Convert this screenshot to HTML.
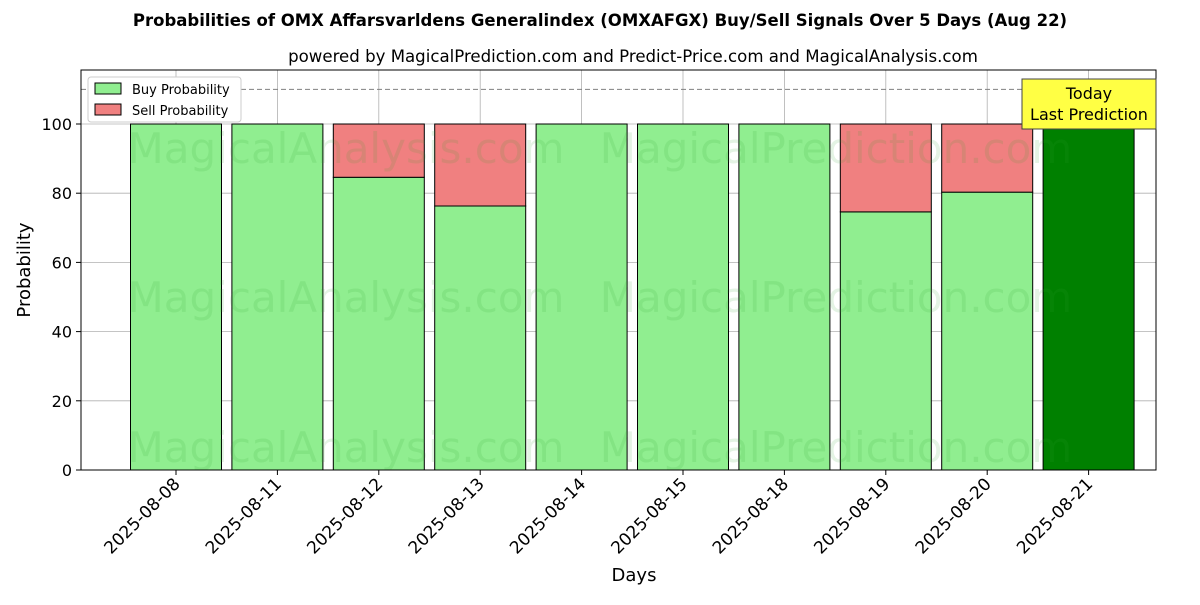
<!DOCTYPE html>
<html><head><meta charset="utf-8"><style>
body{margin:0;background:#fff;}
svg text{font-family:"DejaVu Sans","Liberation Sans",sans-serif;}
</style></head><body>
<svg id="chart" width="1200" height="600" xmlns="http://www.w3.org/2000/svg">
<text x="600" y="26" text-anchor="middle" font-size="16.5" font-weight="bold">Probabilities of OMX Affarsvarldens Generalindex (OMXAFGX) Buy/Sell Signals Over 5 Days (Aug 22)</text>
<text x="633" y="62" text-anchor="middle" font-size="16.6">powered by MagicalPrediction.com and Predict-Price.com and MagicalAnalysis.com</text>
<g id="grid"></g>
<g id="bars"></g>
<g id="wm" fill="#2ca02c" fill-opacity="0.13" font-size="42" text-anchor="middle">
<text x="346" y="163">MagicalAnalysis.com</text>
<text x="836" y="163">MagicalPrediction.com</text>
<text x="346" y="312">MagicalAnalysis.com</text>
<text x="836" y="312">MagicalPrediction.com</text>
<text x="346" y="462">MagicalAnalysis.com</text>
<text x="836" y="462">MagicalPrediction.com</text>
</g>
<line x1="81" x2="1156" y1="89.4" y2="89.4" stroke="#808080" stroke-dasharray="5,3"/>
<rect x="81" y="70" width="1075" height="400" fill="none" stroke="#000"/>
<g id="axes"></g>
<text x="30" y="270" transform="rotate(-90 30 270)" text-anchor="middle" font-size="18">Probability</text>
<text x="634" y="581" text-anchor="middle" font-size="18">Days</text>
<g>
<rect x="88" y="77" width="153" height="45" fill="#fff" stroke="#ccc" rx="3"/>
<rect x="95" y="83" width="26" height="11" fill="#90ee90" stroke="#000"/>
<text x="132" y="94" font-size="13">Buy Probability</text>
<rect x="95" y="104" width="26" height="11" fill="#f08080" stroke="#000"/>
<text x="132" y="115" font-size="13">Sell Probability</text>
</g>
<g>
<rect x="1022" y="79" width="134" height="50" fill="#ffff44" stroke="#444"/>
<text x="1089" y="99" text-anchor="middle" font-size="16">Today</text>
<text x="1089" y="120" text-anchor="middle" font-size="16">Last Prediction</text>
</g>
</svg>
<script>
const categories=["2025-08-08","2025-08-11","2025-08-12","2025-08-13","2025-08-14","2025-08-15","2025-08-18","2025-08-19","2025-08-20","2025-08-21"];
const buyValues=[100,100,84.6,76.3,100,100,100,74.6,80.3,100];
const sellValues=[0,0,15.4,23.7,0,0,0,25.4,19.7,0];
const yTicks=[0,20,40,60,80,100];
const NS="http://www.w3.org/2000/svg";
const y=v=>470-v*3.46;
const x=i=>176+i*101.4;
const bw=91;
function mk(tag,attrs,parent){const e=document.createElementNS(NS,tag);for(const k in attrs)e.setAttribute(k,attrs[k]);parent.appendChild(e);return e;}
const grid=document.getElementById('grid'),bars=document.getElementById('bars'),axes=document.getElementById('axes');
yTicks.forEach(t=>{
 const l=mk('line',{x1:81,x2:1156,y1:y(t),y2:y(t),stroke:'#b0b0b0','stroke-width':0.8},grid);
 
 
 const tk=mk('line',{x1:76,x2:81,y1:y(t),y2:y(t),stroke:'#000'},axes);
 
 
 const tx=mk('text',{x:72,y:y(t)+6,'text-anchor':'end','font-size':16},axes);
 tx.textContent=t;
 
 
});
categories.forEach((c,i)=>{
 const gl=mk('line',{x1:x(i),x2:x(i),y1:70,y2:470,stroke:'#b0b0b0','stroke-width':0.8},grid);
 
 
 const last=i===categories.length-1;
 const b=mk('rect',{x:x(i)-bw/2,y:y(buyValues[i]),width:bw,height:buyValues[i]*3.46,fill:last?'#008000':'#90ee90',stroke:'#000'},bars);
 
 
 if(sellValues[i]>0){
  const s=mk('rect',{x:x(i)-bw/2,y:y(buyValues[i]+sellValues[i]),width:bw,height:sellValues[i]*3.46,fill:'#f08080',stroke:'#000'},bars);
  
  
 }
 const tk=mk('line',{x1:x(i),x2:x(i),y1:470,y2:475,stroke:'#000'},axes);
 
 
 const tx=mk('text',{x:x(i)+5,y:485,'text-anchor':'end','font-size':17,transform:`rotate(-45 ${x(i)+5} 485)`},axes);
 tx.textContent=c;
 
 
});
</script>
</body></html>
